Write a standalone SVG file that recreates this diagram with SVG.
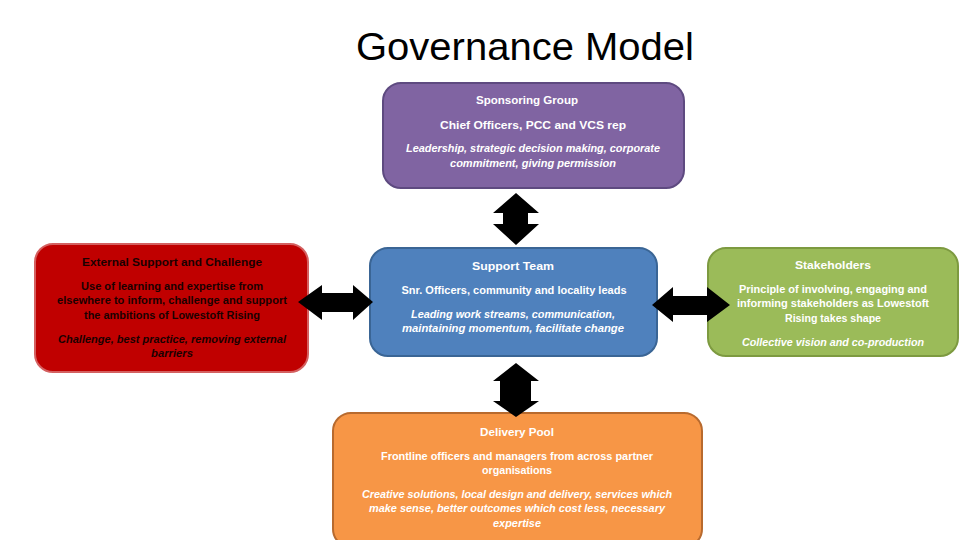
<svg xmlns="http://www.w3.org/2000/svg" width="960" height="540" viewBox="0 0 960 540">
<style>
.box{stroke-width:2}
.t{font-family:"Liberation Sans","Open Sans",sans-serif;font-size:10.5px;font-weight:bold;text-anchor:middle}
.i{font-style:italic}
.w{fill:#ffffff}
.d{fill:#1a0000}
.arr{fill:#000000}
</style>
<rect width="960" height="540" fill="#ffffff"/>
<text x="525" y="60" font-family="Liberation Sans, Open Sans, sans-serif" font-size="39" text-anchor="middle" fill="#000000" textLength="338" lengthAdjust="spacingAndGlyphs">Governance Model</text>

<g id="sponsoring-group">
<rect class="box" x="383" y="83" width="301" height="105" rx="18" fill="#8064A2" stroke="#5E4A80"/>
<text class="t w" x="527" y="104" textLength="102" lengthAdjust="spacingAndGlyphs">Sponsoring Group</text>
<text class="t w" x="533" y="129" textLength="186" lengthAdjust="spacingAndGlyphs">Chief Officers, PCC and VCS rep</text>
<text class="t w i" x="533" y="152" textLength="254" lengthAdjust="spacingAndGlyphs">Leadership, strategic decision making, corporate</text>
<text class="t w i" x="533" y="167" textLength="166" lengthAdjust="spacingAndGlyphs">commitment, giving permission</text>
</g>

<g id="external-support">
<rect class="box" x="35" y="244" width="273" height="128" rx="18" fill="#C00000" stroke="#D46060"/>
<text class="t d" x="172" y="266" textLength="180" lengthAdjust="spacingAndGlyphs">External Support and Challenge</text>
<text class="t d" x="172" y="290" textLength="182" lengthAdjust="spacingAndGlyphs">Use of learning and expertise from</text>
<text class="t d" x="172" y="304" textLength="230" lengthAdjust="spacingAndGlyphs">elsewhere to inform, challenge and support</text>
<text class="t d" x="172" y="319" textLength="176" lengthAdjust="spacingAndGlyphs">the ambitions of Lowestoft Rising</text>
<text class="t d i" x="172" y="343" textLength="228" lengthAdjust="spacingAndGlyphs">Challenge, best practice, removing external</text>
<text class="t d i" x="172" y="357" textLength="42" lengthAdjust="spacingAndGlyphs">barriers</text>
</g>

<g id="support-team">
<rect class="box" x="370" y="248" width="287" height="108" rx="18" fill="#4F81BD" stroke="#3A6595"/>
<text class="t w" x="513" y="270" textLength="82" lengthAdjust="spacingAndGlyphs">Support Team</text>
<text class="t w" x="514" y="294" textLength="225" lengthAdjust="spacingAndGlyphs">Snr. Officers, community and locality leads</text>
<text class="t w i" x="513" y="318" textLength="204" lengthAdjust="spacingAndGlyphs">Leading work streams, communication,</text>
<text class="t w i" x="513" y="332" textLength="222" lengthAdjust="spacingAndGlyphs">maintaining momentum, facilitate change</text>
</g>

<g id="stakeholders">
<rect class="box" x="708" y="248" width="250" height="108" rx="18" fill="#9BBB59" stroke="#7D9A40"/>
<text class="t w" x="833" y="269" textLength="76" lengthAdjust="spacingAndGlyphs">Stakeholders</text>
<text class="t w" x="833" y="293" textLength="188" lengthAdjust="spacingAndGlyphs">Principle of involving, engaging and</text>
<text class="t w" x="833" y="307" textLength="192" lengthAdjust="spacingAndGlyphs">informing stakeholders as Lowestoft</text>
<text class="t w" x="833" y="322" textLength="96" lengthAdjust="spacingAndGlyphs">Rising takes shape</text>
<text class="t w i" x="833" y="346" textLength="182" lengthAdjust="spacingAndGlyphs">Collective vision and co-production</text>
</g>

<g id="delivery-pool">
<rect class="box" x="333" y="413" width="369" height="134" rx="18" fill="#F79646" stroke="#B86A2E"/>
<text class="t w" x="517" y="436" textLength="74" lengthAdjust="spacingAndGlyphs">Delivery Pool</text>
<text class="t w" x="517" y="460" textLength="272" lengthAdjust="spacingAndGlyphs">Frontline officers and managers from across partner</text>
<text class="t w" x="517" y="474" textLength="70" lengthAdjust="spacingAndGlyphs">organisations</text>
<text class="t w i" x="517" y="498" textLength="310" lengthAdjust="spacingAndGlyphs">Creative solutions, local design and delivery, services which</text>
<text class="t w i" x="517" y="512" textLength="296" lengthAdjust="spacingAndGlyphs">make sense, better outcomes which cost less, necessary</text>
<text class="t w i" x="517" y="527" textLength="48" lengthAdjust="spacingAndGlyphs">expertise</text>
</g>

<g id="connectors">
<polygon class="arr" points="516,193 539,213 528,213 528,224 539,224 516,245 493,224 503,224 503,213 493,213"/>
<polygon class="arr" points="516,363 539,381 531,381 531,401 539,401 516,417 493,401 500,401 500,381 493,381"/>
<polygon class="arr" points="298,302 322,285 322,293 353,293 353,285 373,302 353,320 353,312 322,312 322,320"/>
<polygon class="arr" points="652,305 673,287 673,296 707,296 707,287 730,305 707,322 707,315 673,315 673,322"/>
</g>
</svg>
